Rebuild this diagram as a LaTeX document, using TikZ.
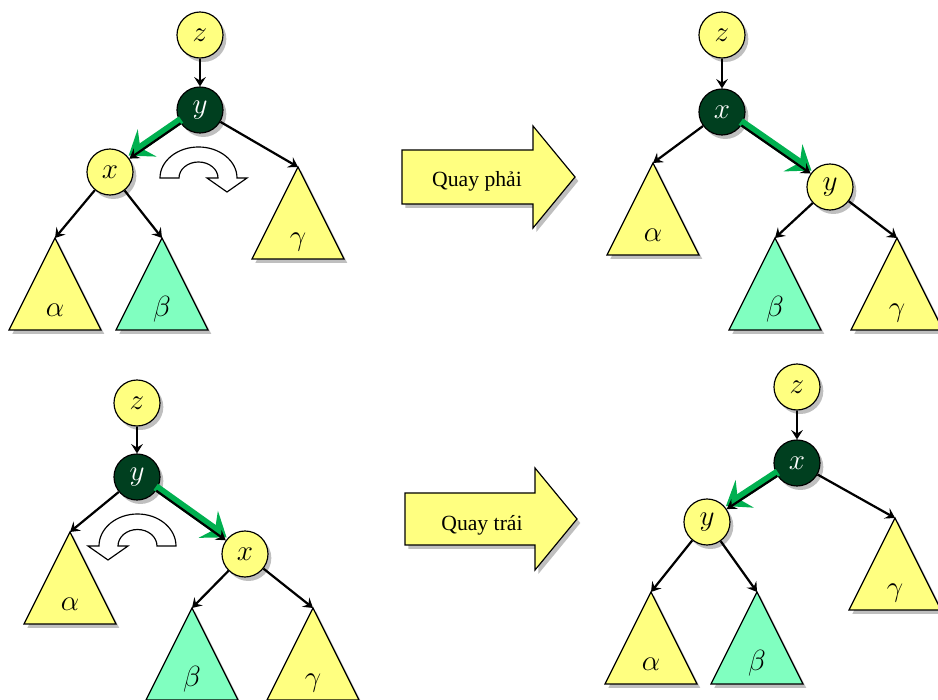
\documentclass[tikz,border=0pt]{standalone}
\usepackage{fontspec}
\setmainfont{Liberation Serif}
\usepackage{amsmath}
\usetikzlibrary{arrows.meta,shadows,calc}
\definecolor{nodeyellow}{HTML}{FFFF80}
\definecolor{nodemint}{HTML}{80FFC0}
\definecolor{nodedark}{HTML}{003F1F}
\definecolor{hlgreen}{HTML}{00B050}
\definecolor{shadowgray}{HTML}{BFBFBF}
\begin{document}
\begin{tikzpicture}[x=0.03cm,y=0.03cm,
	font=\fontsize{18.5}{22}\selectfont,
	dshadow/.style={drop shadow={shadow xshift=0.1cm,shadow yshift=-0.12cm,fill=shadowgray,opacity=1}},
	leaf/.style={circle,draw,line width=1pt,fill=nodeyellow,minimum size=1.38cm,inner sep=0pt,font=\fontsize{23}{26}\selectfont,dshadow},
	pivot/.style={leaf,fill=nodedark,text=white},
	subtree/.style={draw,line width=1pt,fill=nodeyellow,dshadow},
	label/.style={anchor=base,font=\fontsize{23}{26}\selectfont},
	link/.style={line width=1.9pt,-{Stealth[length=8pt,width=10pt,inset=3pt]}},
	hilite/.style={line width=6.5pt,draw=hlgreen,-{Stealth[length=19pt,width=28pt,inset=7pt]}},
	rotarrow/.style={draw,line width=1pt,fill=white},
	bigarrow/.style={draw,line width=1pt,fill=nodeyellow,dshadow}]
	
	\useasboundingbox (0,0) rectangle (938,700);
	
	\node[leaf] (z1) at (200,665) {$z$};
	\node[pivot] (y1) at (200,590) {$y$};
	\node[leaf] (x1) at (110,528) {$x$};
	\coordinate (a1) at (55,462);
	\coordinate (b1) at (162,462);
	\coordinate (g1) at (298,533);
	\draw[subtree] (a1) -- ++(-46,-92) -- ++(92,0) -- cycle;
	\draw[subtree,fill=nodemint] (b1) -- ++(-46,-92) -- ++(92,0) -- cycle;
	\draw[subtree] (g1) -- ++(-46,-92) -- ++(92,0) -- cycle;
	\node[label] (la1) at ($(a1)+(0,-79)$) {$\alpha$};
	\node[label] (lb1) at ($(b1)+(0,-79)$) {$\beta$};
	\node[label] (lg1) at ($(g1)+(0,-79)$) {$\gamma$};
	\draw[hilite] ($(y1)!0.69cm!(x1)+(0,3.5)$) -- ($(x1)!0.68cm!(y1)+(0,3.5)$);
	\draw[link] (z1) -- (y1);
	\draw[link] (y1) -- (x1);
	\draw[link] (y1) -- (g1);
	\draw[link] (x1) -- (a1);
	\draw[link] (x1) -- (b1);
	\draw[rotarrow] (160,522) arc[start angle=180,end angle=0,x radius=38.5,y radius=31] -- (247,522) -- (227,508) -- (207,522) -- (218,522) arc[start angle=0,end angle=180,x radius=19.5,y radius=16] -- cycle;
	
	\draw[bigarrow] (402,496) -- (533,496) -- (533,472) -- (575,523) -- (533,574) -- (533,550) -- (402,550) -- cycle;
	\node[anchor=base] (qr) at (477,513) {Quay phải};
	
	\node[leaf] (z2) at (722,665) {$z$};
	\node[pivot] (x2) at (722,588) {$x$};
	\node[leaf] (y2) at (830,513) {$y$};
	\coordinate (a2) at (653,537);
	\coordinate (b2) at (775,462);
	\coordinate (g2) at (897,462);
	\draw[subtree] (a2) -- ++(-46,-92) -- ++(92,0) -- cycle;
	\draw[subtree,fill=nodemint] (b2) -- ++(-46,-92) -- ++(92,0) -- cycle;
	\draw[subtree] (g2) -- ++(-46,-92) -- ++(92,0) -- cycle;
	\node[label] (la2) at ($(a2)+(0,-79)$) {$\alpha$};
	\node[label] (lb2) at ($(b2)+(0,-79)$) {$\beta$};
	\node[label] (lg2) at ($(g2)+(0,-79)$) {$\gamma$};
	\draw[hilite] ($(x2)!0.69cm!(y2)+(0,3.5)$) -- ($(y2)!0.68cm!(x2)+(0,3.5)$);
	\draw[link] (z2) -- (x2);
	\draw[link] (x2) -- (a2);
	\draw[link] (x2) -- (y2);
	\draw[link] (y2) -- (b2);
	\draw[link] (y2) -- (g2);
	
	\node[leaf] (z3) at (137,297) {$z$};
	\node[pivot] (y3) at (137,223) {$y$};
	\node[leaf] (x3) at (245,146) {$x$};
	\coordinate (a3) at (70,168);
	\coordinate (b3) at (192,92);
	\coordinate (g3) at (313,92);
	\draw[subtree] (a3) -- ++(-46,-92) -- ++(92,0) -- cycle;
	\draw[subtree,fill=nodemint] (b3) -- ++(-46,-92) -- ++(92,0) -- cycle;
	\draw[subtree] (g3) -- ++(-46,-92) -- ++(92,0) -- cycle;
	\node[label] (la3) at ($(a3)+(0,-79)$) {$\alpha$};
	\node[label] (lb3) at ($(b3)+(0,-79)$) {$\beta$};
	\node[label] (lg3) at ($(g3)+(0,-79)$) {$\gamma$};
	\draw[hilite] ($(y3)!0.69cm!(x3)+(0,3.5)$) -- ($(x3)!0.68cm!(y3)+(0,3.5)$);
	\draw[link] (z3) -- (y3);
	\draw[link] (y3) -- (a3);
	\draw[link] (y3) -- (x3);
	\draw[link] (x3) -- (b3);
	\draw[link] (x3) -- (g3);
	\draw[rotarrow] (176,154) arc[start angle=0,end angle=180,x radius=38.5,y radius=32] -- (88,154) -- (108,140) -- (128,154) -- (118,154) arc[start angle=180,end angle=0,x radius=19.5,y radius=16.5] -- cycle;
	
	\draw[bigarrow] (405,155) -- (535,155) -- (535,130) -- (577,181) -- (535,232) -- (535,207) -- (405,207) -- cycle;
	\node[anchor=base] (qt) at (482,169) {Quay trái};
	
	\node[leaf] (z4) at (797,313) {$z$};
	\node[pivot] (x4) at (797,237) {$x$};
	\node[leaf] (y4) at (707,178) {$y$};
	\coordinate (a4) at (651,108);
	\coordinate (b4) at (757,108);
	\coordinate (g4) at (895,182);
	\draw[subtree] (a4) -- ++(-46,-92) -- ++(92,0) -- cycle;
	\draw[subtree,fill=nodemint] (b4) -- ++(-46,-92) -- ++(92,0) -- cycle;
	\draw[subtree] (g4) -- ++(-46,-92) -- ++(92,0) -- cycle;
	\node[label] (la4) at ($(a4)+(0,-79)$) {$\alpha$};
	\node[label] (lb4) at ($(b4)+(0,-79)$) {$\beta$};
	\node[label] (lg4) at ($(g4)+(0,-79)$) {$\gamma$};
	\draw[hilite] ($(x4)!0.69cm!(y4)+(0,3.5)$) -- ($(y4)!0.68cm!(x4)+(0,3.5)$);
	\draw[link] (z4) -- (x4);
	\draw[link] (x4) -- (y4);
	\draw[link] (x4) -- (g4);
	\draw[link] (y4) -- (a4);
	\draw[link] (y4) -- (b4);
	
\end{tikzpicture}
\end{document}
